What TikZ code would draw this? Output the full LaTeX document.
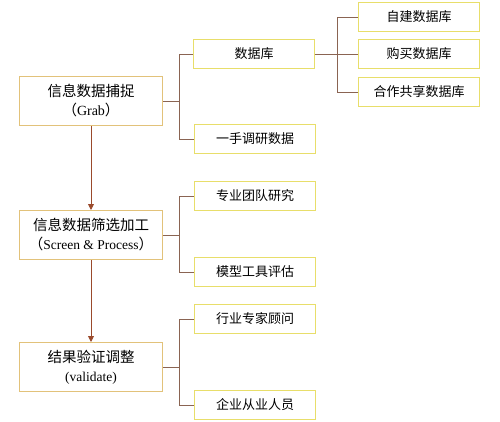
\documentclass[tikz,border=0pt]{standalone}
\usepackage{fontspec}
\setmainfont{Noto Sans CJK SC}
\newfontfamily\latin{Liberation Serif}
\usetikzlibrary{positioning,arrows.meta}
\definecolor{cgold}{HTML}{E2C27A}
\definecolor{cyell}{HTML}{E8DE6A}
\definecolor{clink}{HTML}{8A6452}
\definecolor{carrow}{HTML}{9A4A2C}

\begin{document}
\begin{tikzpicture}[x=1pt, y=-1pt, >={Triangle[width=6pt,length=6pt]},
  stage/.style={draw=cgold, line width=1pt, align=center, minimum width=143pt, minimum height=49pt, inner sep=2pt, font=\fontsize{14.5}{19}\selectfont},
  leaf/.style={draw=cyell, line width=1pt, align=center, minimum width=121pt, minimum height=29pt, inner sep=2pt, font=\fontsize{13}{14}\selectfont},
  link/.style={draw=clink, line width=0.9pt},
  flow/.style={draw=carrow, line width=0.9pt, ->}]
\useasboundingbox (0,0) rectangle (500,421);
% stages
\node[stage] (grab) at (91,101) {信息数据捕捉\\ （{\latin\fontsize{14}{19}\selectfont Grab}）};
\node[stage] (scr) at (91,235) {信息数据筛选加工\\ （{\latin\fontsize{13.5}{19}\selectfont Screen \& Process}）};
\node[stage] (val) at (91,367) {结果验证调整\\ {\latin\fontsize{13.5}{19}\selectfont (validate)}};
% first stage leaves
\node[leaf] (db) at (254,54) {数据库};
\node[leaf] (first) at (255,139) {一手调研数据};
\node[leaf] (own) at (419,17) {自建数据库};
\node[leaf] (buy) at (419,54) {购买数据库};
\node[leaf] (share) at (419,92) {合作共享数据库};
% second and third stage leaves
\node[leaf] (team) at (255,196) {专业团队研究};
\node[leaf] (model) at (255,272) {模型工具评估};
\node[leaf] (expert) at (255,319) {行业专家顾问};
\node[leaf] (staff) at (255,405) {企业从业人员};
% connectors
\coordinate (fgrab) at ([xshift=16pt]grab.east);
\coordinate (fdb) at ([xshift=22pt]db.east);
\coordinate (fscr) at ([xshift=16pt]scr.east);
\coordinate (fval) at ([xshift=16pt]val.east);
\draw[link] (grab.east) -- (fgrab) |- (db.west);
\draw[link] (fgrab) |- (first.west);
\draw[link] (db.east) -- (fdb) |- (own.west);
\draw[link] (fdb) -- (buy.west);
\draw[link] (fdb) |- (share.west);
\draw[link] (scr.east) -- (fscr) |- (team.west);
\draw[link] (fscr) |- (model.west);
\draw[link] (val.east) -- (fval) |- (expert.west);
\draw[link] (fval) |- (staff.west);
\draw[flow] (grab) -- (scr);
\draw[flow] (scr) -- (val);
\end{tikzpicture}
\end{document}
